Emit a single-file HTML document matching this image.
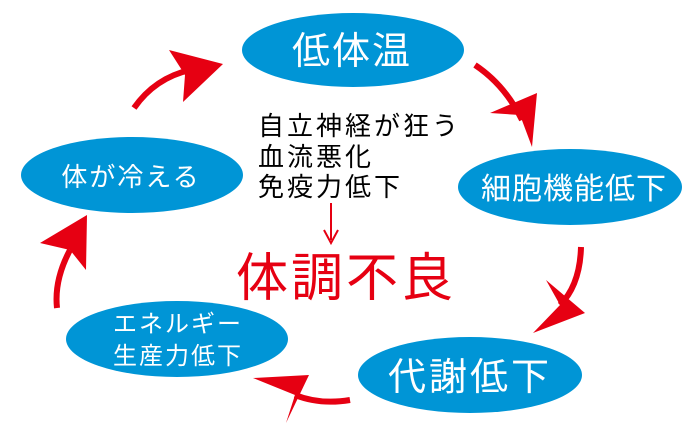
<!DOCTYPE html>
<html><head><meta charset="utf-8"><style>
html,body{margin:0;padding:0;background:#fff;}
svg{display:block}
text{font-family:"Liberation Sans","Noto Sans CJK JP",sans-serif;}
</style></head><body>
<svg width="698" height="439" viewBox="0 0 698 439" xmlns="http://www.w3.org/2000/svg">
<g fill="#0095d6">
<ellipse cx="353" cy="50" rx="111" ry="37"/>
<ellipse cx="570" cy="187" rx="112" ry="38"/>
<ellipse cx="470" cy="375" rx="112" ry="38"/>
<ellipse cx="177" cy="339" rx="111" ry="38"/>
<ellipse cx="132" cy="175" rx="111" ry="38"/>
</g>
<g fill="#fff">
<text x="352" y="64" font-size="38" text-anchor="middle" letter-spacing="2">低体温</text>
<text x="574" y="199" font-size="30" text-anchor="middle" letter-spacing="1">細胞機能低下</text>
<text x="470" y="390" font-size="38" text-anchor="middle" letter-spacing="3">代謝低下</text>
<text x="131" y="186" font-size="26" text-anchor="middle" letter-spacing="2">体が冷える</text>
<text x="178" y="332" font-size="24" text-anchor="middle" letter-spacing="2">エネルギー</text>
<text x="178" y="364" font-size="24" text-anchor="middle" letter-spacing="2">生産力低下</text>
</g>
<g fill="#000" font-size="26" letter-spacing="3">
<text x="258" y="135">自立神経が狂う</text>
<text x="258" y="166">血流悪化</text>
<text x="258" y="196">免疫力低下</text>
</g>
<line x1="331" y1="203" x2="331" y2="240" stroke="#e60012" stroke-width="2"/>
<polyline points="324,230 331,243 338,230" fill="none" stroke="#e60012" stroke-width="2"/>
<text x="236" y="296" font-size="52" fill="#e60012" letter-spacing="3">体調不良</text>
<g fill="none" stroke="#e60012" stroke-width="6">
<path d="M134,108 Q155,78 190,70"/>
<path d="M475,65 Q505,85 522,120"/>
<path d="M581,247 Q580,285 560,305"/>
<path d="M350,400 Q320,405 295,395"/>
<path d="M57,308 Q54,280 70,250"/>
</g>
<g fill="#e60012">
<polygon points="169,50 223,64 183,102 185,75"/>
<polygon points="490,113 537,93 532,147 520,115"/>
<polygon points="546,280 585,313 533,333 560,305"/>
<polygon points="253,378 309,375 286,423 295,395"/>
<polygon points="40,243 87,215 86,270 70,250"/>
</g>
</svg>
</body></html>
